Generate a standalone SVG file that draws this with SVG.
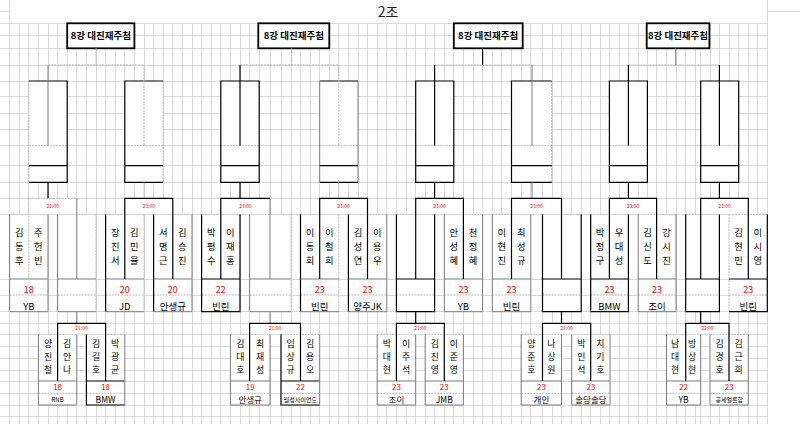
<svg xmlns="http://www.w3.org/2000/svg" width="800" height="424" viewBox="0 0 800 424">
<style>
.grid{stroke:#d9d9d9;stroke-width:1;fill:none;shape-rendering:crispEdges}
.w{fill:#fff}
.k{stroke:#000;stroke-width:1.2;fill:none}
.g{stroke:#7a7a7a;stroke-width:1;fill:none}
.d{stroke:#b5b5b5;stroke-width:1;stroke-dasharray:2 1;fill:none}
.hb{fill:#fff;stroke:#000;stroke-width:1.8}
text{font-family:'Noto Sans CJK KR','Noto Sans',sans-serif;text-anchor:middle}
.hd{font-size:9.5px;font-weight:bold;fill:#000}
.ti{font-size:14px;fill:#222}
.nm{font-size:9.3px;fill:#000}
.ln{font-size:8.9px;fill:#000}
.sc{font-size:9px;fill:#f00}
.tm{font-size:9.5px;fill:#000}
.ls{font-size:8px;fill:#f00}
.lt{font-size:8.5px;fill:#000}
.sm{font-size:6px;fill:#000}
.tt{font-size:5px;fill:#f00}
</style>
<rect width="800" height="424" fill="#fff"/>
<path class="grid" d="M9.6 0V23.3M0 11.7H9.6M767.3 0V424M767.3 11.7H800
M9.6 23.3V424M19.2 23.3V424M28.8 23.3V424M38.4 23.3V424M48 23.3V424M57.6 23.3V424M67.2 23.3V424M76.8 23.3V424M86.4 23.3V424M96 23.3V424M105.6 23.3V424M115.2 23.3V424M124.8 23.3V424M134.4 23.3V424M144 23.3V424M153.6 23.3V424M163.2 23.3V424M172.8 23.3V424M182.4 23.3V424M192 23.3V424
M201.6 23.3V424M211.2 23.3V424M220.8 23.3V424M230.4 23.3V424M240 23.3V424M249.6 23.3V424M259.2 23.3V424M270 23.3V424M281 23.3V424M291 23.3V424M300.5 23.3V424M310 23.3V424M319.7 23.3V424M329.3 23.3V424M338.8 23.3V424M348.4 23.3V424M358 23.3V424M367.5 23.3V424M377.2 23.3V424M386.8 23.3V424
M396.4 23.3V424M406 23.3V424M415.7 23.3V424M425.2 23.3V424M434.6 23.3V424M444.3 23.3V424M453.8 23.3V424M463.4 23.3V424M473 23.3V424M482.6 23.3V424M492.3 23.3V424M501.9 23.3V424M511.5 23.3V424M521.2 23.3V424M530.8 23.3V424M542.5 23.3V424M552 23.3V424M561.5 23.3V424M571.7 23.3V424M581.2 23.3V424
M590.7 23.3V424M600.2 23.3V424M609.4 23.3V424M619 23.3V424M628.4 23.3V424M638.2 23.3V424M647.4 23.3V424M656.6 23.3V424M666.5 23.3V424M676 23.3V424M685.7 23.3V424M695.3 23.3V424M700.7 23.3V424M710 23.3V424M719.4 23.3V424M729 23.3V424M738.7 23.3V424M748.3 23.3V424M757.8 23.3V424
M0 23.3H767.3M0 35.7H767.3M0 48.3H767.3M0 65H767.3M0 81H767.3M0 96.7H767.3M0 113.3H767.3M0 129.3H767.3M0 145.7H767.3M0 165.7H767.3M0 182.3H767.3M0 198.3H767.3M0 214.3H767.3M0 279H767.3M0 295H767.3M0 311.7H767.3M0 323.3H767.3M0 334.3H767.3M0 346.7H767.3M0 358.3H767.3M0 370H767.3M0 381H767.3M0 393.3H767.3M0 405H767.3M0 416.7H767.3"/>
<text class="ti" x="388" y="16.5">2조</text>

<g id="h1"><rect class="hb" x="67.2" y="23.3" width="67.2" height="25"/><text class="hd" x="100.8" y="39.3">8강 대진재주첨</text></g>
<g id="h2"><rect class="hb" x="258.3" y="23.3" width="71" height="25"/><text class="hd" x="293.8" y="39.3">8강 대진재주첨</text></g>
<g id="h3"><rect class="hb" x="453.8" y="23.3" width="68.9" height="25"/><text class="hd" x="488.2" y="39.3">8강 대진재주첨</text></g>
<g id="h4"><rect class="hb" x="646.7" y="23.3" width="62.7" height="25"/><text class="hd" x="678" y="39.3">8강 대진재주첨</text></g>

<g id="q1"><rect class="w" x="28.8" y="81" width="38.4" height="101.3"/><path class="d" d="M28.8 81V182.3M28.8 145.7H67.2"/><path class="k" d="M28.8 81H67.2V182.3H28.8M28.8 165.7H67.2"/></g>
<g id="q2"><rect class="w" x="124.8" y="81" width="38.4" height="101.3"/><path class="d" d="M163.2 81V182.3M124.8 145.7H163.2"/><path class="k" d="M163.2 81H124.8V182.3H163.2M124.8 165.7H163.2"/></g>
<g id="q3"><rect class="w" x="220.8" y="81" width="38.4" height="101.3"/><path class="d" d="M220.8 145.7H259.2"/><path class="k" d="M220.8 81H259.2V182.3H220.8ZM220.8 165.7H259.2"/></g>
<g id="q4"><rect class="w" x="319.7" y="81" width="38.3" height="101.3"/><path class="d" d="M319.7 145.7H358"/><path class="g" d="M319.7 81V182.3M358 81V182.3"/><path class="k" d="M319.7 81H358M319.7 182.3H358M319.7 165.7H358"/></g>
<g id="q5"><rect class="w" x="415.7" y="81" width="38.1" height="101.3"/><path class="d" d="M415.7 145.7H453.8"/><path class="k" d="M415.7 81H453.8V182.3H415.7ZM415.7 165.7H453.8"/></g>
<g id="q6"><rect class="w" x="511.5" y="81" width="40.2" height="101.3"/><path class="d" d="M551.7 81V182.3M511.5 145.7H551.7"/><path class="k" d="M551.7 81H511.5V182.3H551.7M511.5 165.7H551.7"/></g>
<g id="q7"><rect class="w" x="609.4" y="81" width="38" height="101.3"/><path class="d" d="M609.4 145.7H647.4"/><path class="k" d="M609.4 81H647.4V182.3H609.4ZM609.4 165.7H647.4"/></g>
<g id="q8"><rect class="w" x="700.7" y="81" width="38" height="101.3"/><path class="d" d="M700.7 145.7H738.7"/><path class="k" d="M700.7 81H738.7V182.3H700.7ZM700.7 165.7H738.7"/></g>

<!-- upper teams -->
<g id="t1"><rect class="w" x="9.6" y="214.3" width="38.4" height="97.4"/><path class="d" d="M9.6 214.3H48M9.6 295H48"/><path class="g" d="M9.6 214.3V311.7H48V214.3M9.6 279H48"/>
<text class="nm" x="19.2" y="236.3">김<tspan x="19.2" dy="13.6">동</tspan><tspan x="19.2" dy="13.6">후</tspan></text>
<text class="nm" x="38.4" y="236.3">주<tspan x="38.4" dy="13.6">헌</tspan><tspan x="38.4" dy="13.6">빈</tspan></text>
<text class="sc" x="28.8" y="292.5">18</text><text class="tm" x="28.8" y="310.2">YB</text></g>
<g id="t2"><rect class="w" x="57.6" y="214.3" width="38.4" height="97.4"/><path class="d" d="M57.6 214.3H96M57.6 295H96M96 214.3V311.7"/><path class="g" d="M57.6 214.3V311.7H96M57.6 279H96"/></g>
<g id="t3"><rect class="w" x="105.6" y="214.3" width="38.4" height="97.4"/><path class="d" d="M105.6 214.3H144M105.6 295H144M144 214.3V311.7"/><path class="k" d="M105.6 214.3V311.7"/><path class="g" d="M105.6 311.7H144M105.6 279H144"/>
<text class="nm" x="115.2" y="236.3">장<tspan x="115.2" dy="13.6">진</tspan><tspan x="115.2" dy="13.6">서</tspan></text>
<text class="nm" x="134.4" y="236.3">김<tspan x="134.4" dy="13.6">민</tspan><tspan x="134.4" dy="13.6">율</tspan></text>
<text class="sc" x="124.8" y="292.5">20</text><text class="tm" x="124.8" y="310.2">JD</text></g>
<g id="t4"><rect class="w" x="153.6" y="214.3" width="38.4" height="97.4"/><path class="d" d="M153.6 214.3H192M153.6 295H192"/><path class="k" d="M153.6 214.3V311.7"/><path class="g" d="M192 214.3V311.7H153.6M153.6 279H192"/>
<text class="nm" x="163.2" y="236.3">서<tspan x="163.2" dy="13.6">명</tspan><tspan x="163.2" dy="13.6">근</tspan></text>
<text class="nm" x="182.4" y="236.3">김<tspan x="182.4" dy="13.6">승</tspan><tspan x="182.4" dy="13.6">진</tspan></text>
<text class="sc" x="172.8" y="292.5">20</text><text class="tm" x="172.8" y="310.2">안생규</text></g>

<g id="tA"><rect class="w" x="201.6" y="214.3" width="38.4" height="97.4"/><path class="d" d="M201.6 214.3H240M201.6 295H240"/><path class="k" d="M201.6 214.3V311.7H240V214.3M201.6 279H240"/>
<text class="nm" x="211.2" y="236.3">박<tspan x="211.2" dy="13.6">평</tspan><tspan x="211.2" dy="13.6">수</tspan></text>
<text class="nm" x="230.4" y="236.3">이<tspan x="230.4" dy="13.6">재</tspan><tspan x="230.4" dy="13.6">홍</tspan></text>
<text class="sc" x="220.8" y="292.5">22</text><text class="tm" x="220.8" y="310.2">빈린</text></g>
<g id="tB"><rect class="w" x="249.6" y="214.3" width="41.4" height="97.4"/><path class="d" d="M249.6 214.3H291M249.6 295H291M291 214.3V311.7"/><path class="g" d="M249.6 214.3V311.7H291M249.6 279H291"/></g>
<g id="tC"><rect class="w" x="300.5" y="214.3" width="38.3" height="97.4"/><path class="d" d="M300.5 214.3H338.8M300.5 295H338.8M338.8 214.3V311.7"/><path class="k" d="M300.5 214.3V311.7"/><path class="g" d="M300.5 311.7H338.8M300.5 279H338.8"/>
<text class="nm" x="310.1" y="236.3">이<tspan x="310.1" dy="13.6">동</tspan><tspan x="310.1" dy="13.6">희</tspan></text>
<text class="nm" x="329.2" y="236.3">이<tspan x="329.2" dy="13.6">철</tspan><tspan x="329.2" dy="13.6">희</tspan></text>
<text class="sc" x="319.7" y="292.5">23</text><text class="tm" x="319.7" y="310.2">빈린</text></g>
<g id="tD"><rect class="w" x="348.4" y="214.3" width="38.4" height="97.4"/><path class="d" d="M348.4 214.3H386.8M348.4 295H386.8"/><path class="k" d="M348.4 214.3V311.7"/><path class="g" d="M386.8 214.3V311.7H348.4M348.4 279H386.8"/>
<text class="nm" x="358" y="236.3">김<tspan x="358" dy="13.6">성</tspan><tspan x="358" dy="13.6">연</tspan></text>
<text class="nm" x="377.2" y="236.3">이<tspan x="377.2" dy="13.6">용</tspan><tspan x="377.2" dy="13.6">우</tspan></text>
<text class="sc" x="367.6" y="292.5">23</text><text class="tm" x="367.6" y="310.2">양주JK</text></g>

<g id="tG"><rect class="w" x="396.4" y="214.3" width="38.2" height="97.4"/><path class="d" d="M396.4 214.3H434.6M396.4 295H434.6"/><path class="k" d="M396.4 214.3V311.7H434.6V214.3M396.4 279H434.6"/></g>
<g id="tH"><rect class="w" x="444.3" y="214.3" width="38.3" height="97.4"/><path class="d" d="M444.3 214.3H482.6M444.3 295H482.6"/><path class="g" d="M444.3 214.3V311.7H482.6V214.3M444.3 279H482.6"/>
<text class="nm" x="453.9" y="236.3">안<tspan x="453.9" dy="13.6">성</tspan><tspan x="453.9" dy="13.6">혜</tspan></text>
<text class="nm" x="473" y="236.3">천<tspan x="473" dy="13.6">정</tspan><tspan x="473" dy="13.6">혜</tspan></text>
<text class="sc" x="463.4" y="292.5">23</text><text class="tm" x="463.4" y="310.2">YB</text></g>
<g id="tI"><rect class="w" x="492.3" y="214.3" width="38.5" height="97.4"/><path class="d" d="M492.3 214.3H530.8M492.3 295H530.8"/><path class="g" d="M492.3 214.3V311.7H530.8V214.3M492.3 279H530.8"/>
<text class="nm" x="501.9" y="236.3">이<tspan x="501.9" dy="13.6">현</tspan><tspan x="501.9" dy="13.6">진</tspan></text>
<text class="nm" x="521.2" y="236.3">최<tspan x="521.2" dy="13.6">성</tspan><tspan x="521.2" dy="13.6">규</tspan></text>
<text class="sc" x="511.5" y="292.5">23</text><text class="tm" x="511.5" y="310.2">빈린</text></g>
<g id="tJ"><rect class="w" x="542.5" y="214.3" width="38.7" height="97.4"/><path class="d" d="M542.5 214.3H581.2M542.5 295H581.2"/><path class="k" d="M542.5 214.3V311.7H581.2V214.3M542.5 279H581.2"/></g>

<g id="tO"><rect class="w" x="590.7" y="214.3" width="37.7" height="97.4"/><path class="d" d="M590.7 214.3H628.4M590.7 295H628.4"/><path class="k" d="M590.7 214.3V311.7H628.4V214.3M590.7 279H628.4"/>
<text class="nm" x="600.1" y="236.3">박<tspan x="600.1" dy="13.6">정</tspan><tspan x="600.1" dy="13.6">구</tspan></text>
<text class="nm" x="619" y="236.3">우<tspan x="619" dy="13.6">대</tspan><tspan x="619" dy="13.6">성</tspan></text>
<text class="sc" x="609.5" y="292.5">23</text><text class="tm" x="609.5" y="310.2">BMW</text></g>
<g id="tP"><rect class="w" x="638.2" y="214.3" width="37.8" height="97.4"/><path class="d" d="M638.2 214.3H676M638.2 295H676"/><path class="g" d="M638.2 214.3V311.7H676V214.3M638.2 279H676"/>
<text class="nm" x="647.6" y="236.3">김<tspan x="647.6" dy="13.6">신</tspan><tspan x="647.6" dy="13.6">도</tspan></text>
<text class="nm" x="666.5" y="236.3">강<tspan x="666.5" dy="13.6">시</tspan><tspan x="666.5" dy="13.6">진</tspan></text>
<text class="sc" x="657.1" y="292.5">23</text><text class="tm" x="657.1" y="310.2">조이</text></g>
<g id="tQ"><rect class="w" x="685.7" y="214.3" width="33.7" height="97.4"/><path class="d" d="M685.7 214.3H719.4M685.7 295H719.4"/><path class="k" d="M685.7 214.3V311.7H719.4V214.3M685.7 279H719.4"/></g>
<g id="tR"><rect class="w" x="729" y="214.3" width="38.3" height="97.4"/><path class="d" d="M729 214.3H767.3M729 295H767.3M729 214.3V311.7"/><path class="k" d="M767.3 214.3V311.7H729M729 279H767.3"/>
<text class="nm" x="738.6" y="236.3">김<tspan x="738.6" dy="13.6">현</tspan><tspan x="738.6" dy="13.6">민</tspan></text>
<text class="nm" x="757.7" y="236.3">이<tspan x="757.7" dy="13.6">시</tspan><tspan x="757.7" dy="13.6">영</tspan></text>
<text class="sc" x="748.2" y="292.5">23</text><text class="tm" x="748.2" y="310.2">빈린</text></g>

<!-- lower teams -->
<g id="t5"><rect class="w" x="38.4" y="334.3" width="38.4" height="70.7"/><path class="d" d="M38.4 334.3H76.8M38.4 393.3H76.8"/><path class="g" d="M38.4 334.3V405H76.8V334.3M38.4 381H76.8"/>
<text class="ln" x="48" y="346.7">양<tspan x="48" dy="13">진</tspan><tspan x="48" dy="13">철</tspan></text>
<text class="ln" x="67.2" y="346.7">김<tspan x="67.2" dy="13">안</tspan><tspan x="67.2" dy="13">나</tspan></text>
<text class="ls" x="57.6" y="390">18</text><text class="sm" x="57.6" y="401.6">RNB</text></g>
<g id="t6"><rect class="w" x="86.4" y="334.3" width="38.4" height="70.7"/><path class="d" d="M86.4 334.3H124.8M86.4 393.3H124.8"/><path class="k" d="M86.4 334.3V405H124.8M86.4 381H124.8"/><path class="g" d="M124.8 334.3V405"/>
<text class="ln" x="96" y="346.7">김<tspan x="96" dy="13">길</tspan><tspan x="96" dy="13">호</tspan></text>
<text class="ln" x="115.2" y="346.7">박<tspan x="115.2" dy="13">광</tspan><tspan x="115.2" dy="13">균</tspan></text>
<text class="ls" x="105.6" y="390">18</text><text class="lt" x="105.6" y="402.8">BMW</text></g>
<g id="tE"><rect class="w" x="230.4" y="334.3" width="39.6" height="70.7"/><path class="d" d="M230.4 334.3H270M230.4 393.3H270"/><path class="g" d="M230.4 334.3V405H270V334.3M230.4 381H270"/>
<text class="ln" x="240.3" y="346.7">김<tspan x="240.3" dy="13">대</tspan><tspan x="240.3" dy="13">호</tspan></text>
<text class="ln" x="260.1" y="346.7">최<tspan x="260.1" dy="13">재</tspan><tspan x="260.1" dy="13">성</tspan></text>
<text class="ls" x="250.2" y="390">19</text><text class="lt" x="250.2" y="402.8">안생규</text></g>
<g id="tF"><rect class="w" x="281" y="334.3" width="38.7" height="70.7"/><path class="d" d="M281 334.3H319.7M281 393.3H319.7"/><path class="k" d="M281 334.3V405H319.7M281 381H319.7"/><path class="g" d="M319.7 334.3V405"/>
<text class="ln" x="290.7" y="346.7">임<tspan x="290.7" dy="13">상</tspan><tspan x="290.7" dy="13">규</tspan></text>
<text class="ln" x="310" y="346.7">김<tspan x="310" dy="13">용</tspan><tspan x="310" dy="13">오</tspan></text>
<text class="ls" x="300.4" y="390">22</text><text class="sm" x="300.4" y="401.6">월성사이언드</text></g>
<g id="tK"><rect class="w" x="377.2" y="334.3" width="38.5" height="70.7"/><path class="d" d="M377.2 334.3H415.7M377.2 393.3H415.7"/><path class="g" d="M377.2 334.3V405H415.7V334.3M377.2 381H415.7"/>
<text class="ln" x="386.8" y="346.7">박<tspan x="386.8" dy="13">대</tspan><tspan x="386.8" dy="13">현</tspan></text>
<text class="ln" x="406" y="346.7">이<tspan x="406" dy="13">주</tspan><tspan x="406" dy="13">석</tspan></text>
<text class="ls" x="396.4" y="390">23</text><text class="lt" x="396.4" y="402.8">조이</text></g>
<g id="tL"><rect class="w" x="425.2" y="334.3" width="38.2" height="70.7"/><path class="d" d="M425.2 334.3H463.4M425.2 393.3H463.4"/><path class="g" d="M425.2 334.3V405H463.4V334.3M425.2 381H463.4"/>
<text class="ln" x="434.8" y="346.7">김<tspan x="434.8" dy="13">진</tspan><tspan x="434.8" dy="13">영</tspan></text>
<text class="ln" x="453.9" y="346.7">이<tspan x="453.9" dy="13">준</tspan><tspan x="453.9" dy="13">영</tspan></text>
<text class="ls" x="444.3" y="390">23</text><text class="lt" x="444.3" y="402.8">JMB</text></g>
<g id="tM"><rect class="w" x="521.2" y="334.3" width="40.3" height="70.7"/><path class="d" d="M521.2 334.3H561.5M521.2 393.3H561.5"/><path class="g" d="M521.2 334.3V405H561.5V334.3M521.2 381H561.5"/>
<text class="ln" x="531.3" y="346.7">양<tspan x="531.3" dy="13">준</tspan><tspan x="531.3" dy="13">호</tspan></text>
<text class="ln" x="551.4" y="346.7">나<tspan x="551.4" dy="13">상</tspan><tspan x="551.4" dy="13">원</tspan></text>
<text class="ls" x="541.4" y="390">23</text><text class="lt" x="541.4" y="402.8">개인</text></g>
<g id="tN"><rect class="w" x="571.7" y="334.3" width="38.3" height="70.7"/><path class="d" d="M571.7 334.3H610M571.7 393.3H610"/><path class="g" d="M571.7 334.3V405H610V334.3M571.7 381H610"/>
<text class="ln" x="581.3" y="346.7">박<tspan x="581.3" dy="13">인</tspan><tspan x="581.3" dy="13">석</tspan></text>
<text class="ln" x="600.4" y="346.7">치<tspan x="600.4" dy="13">기</tspan><tspan x="600.4" dy="13">호</tspan></text>
<text class="ls" x="590.9" y="390">23</text><text class="lt" x="590.9" y="402.8">솔당솔당</text></g>
<g id="tS"><rect class="w" x="666.5" y="334.3" width="34.2" height="70.7"/><path class="d" d="M666.5 334.3H700.7M666.5 393.3H700.7"/><path class="g" d="M666.5 334.3V405H700.7V334.3M666.5 381H700.7"/>
<text class="ln" x="675" y="346.7">남<tspan x="675" dy="13">대</tspan><tspan x="675" dy="13">현</tspan></text>
<text class="ln" x="692.2" y="346.7">방<tspan x="692.2" dy="13">상</tspan><tspan x="692.2" dy="13">현</tspan></text>
<text class="ls" x="683.6" y="390">22</text><text class="lt" x="683.6" y="402.8">YB</text></g>
<g id="tT"><rect class="w" x="710" y="334.3" width="38.3" height="70.7"/><path class="d" d="M710 334.3H748.3M710 393.3H748.3"/><path class="g" d="M710 334.3V405H748.3V334.3M710 381H748.3"/>
<text class="ln" x="719.6" y="346.7">김<tspan x="719.6" dy="13">경</tspan><tspan x="719.6" dy="13">호</tspan></text>
<text class="ln" x="738.7" y="346.7">김<tspan x="738.7" dy="13">근</tspan><tspan x="738.7" dy="13">희</tspan></text>
<text class="ls" x="729.2" y="390">23</text><text class="sm" x="729.2" y="401.6">공세얼른함</text></g>

<g id="connectors">
<rect class="w" x="28.8" y="198.3" width="48" height="15.8"/>
<rect class="w" x="124.8" y="198.3" width="48" height="15.8"/>
<rect class="w" x="220.8" y="198.3" width="49.2" height="15.8"/>
<rect class="w" x="319.7" y="198.3" width="47.8" height="15.8"/>
<rect class="w" x="415.7" y="198.3" width="47.7" height="15.8"/>
<rect class="w" x="511.5" y="198.3" width="50" height="15.8"/>
<rect class="w" x="609.4" y="198.3" width="47.2" height="15.8"/>
<rect class="w" x="700.7" y="198.3" width="47.6" height="15.8"/>
<rect class="w" x="57.6" y="323.3" width="48" height="10.8"/>
<rect class="w" x="249.6" y="323.3" width="50.9" height="10.8"/>
<rect class="w" x="396.4" y="323.3" width="47.9" height="10.8"/>
<rect class="w" x="542.5" y="323.3" width="48.2" height="10.8"/>
<rect class="w" x="685.7" y="323.3" width="43.3" height="10.8"/>
<path class="d" d="M96 48.3V65M48 65H144M144 65V145.7M144 182.3V198.3M291.7 48.3V65M240 65H338.8M338.8 65V145.7M338.8 182.3V198.3M434.6 65H532M628.4 65H719.4M28.8 198.3H76.8M28.8 198.3V279"/>
<path class="g" d="M48 65V145.7M532 65V145.7M532 182.3V198.3M675.7 48.3V65M76.8 198.3V279M270 198.3V279M76.8 311.7V323.3M270 311.7V323.3"/>
<path class="k" d="M48 182.3V198.3M240 65V145.7M240 182.3V198.3M482.6 48.3V65M434.6 65V145.7M434.6 182.3V198.3M628.4 65V145.7M628.4 182.3V198.3M719.4 65V145.7M719.4 182.3V198.3
M124.8 279V198.3H172.8V279M220.8 279V198.3H270M319.7 279V198.3H367.5V279M415.7 279V198.3H463.4V279M511.5 279V198.3H561.5V279M609.4 279V198.3H656.6V279M700.7 279V198.3H748.3V279
M57.6 381V323.3H105.6V381M249.6 381V323.3H300.5V381M415.7 311.7V323.3M396.4 381V323.3H444.3V381M561.5 311.7V323.3M542.5 381V323.3H590.7V381M700.7 311.7V323.3M685.7 381V323.3H729V381"/>
<text class="tt" x="52.8" y="207.6">22:00</text>
<text class="tt" x="148.8" y="207.6">23:00</text>
<text class="tt" x="245.4" y="207.6">23:00</text>
<text class="tt" x="343.6" y="207.6">23:00</text>
<text class="tt" x="439.6" y="207.6">23:00</text>
<text class="tt" x="536.5" y="207.6">23:00</text>
<text class="tt" x="633" y="207.6">23:00</text>
<text class="tt" x="724.5" y="207.6">23:00</text>
<text class="tt" x="81.6" y="330.3">21:00</text>
<text class="tt" x="275" y="330.3">21:00</text>
<text class="tt" x="420.4" y="330.3">21:00</text>
<text class="tt" x="566.6" y="330.3">21:00</text>
<text class="tt" x="707.4" y="330.3">22:00</text>
</g>
</svg>
